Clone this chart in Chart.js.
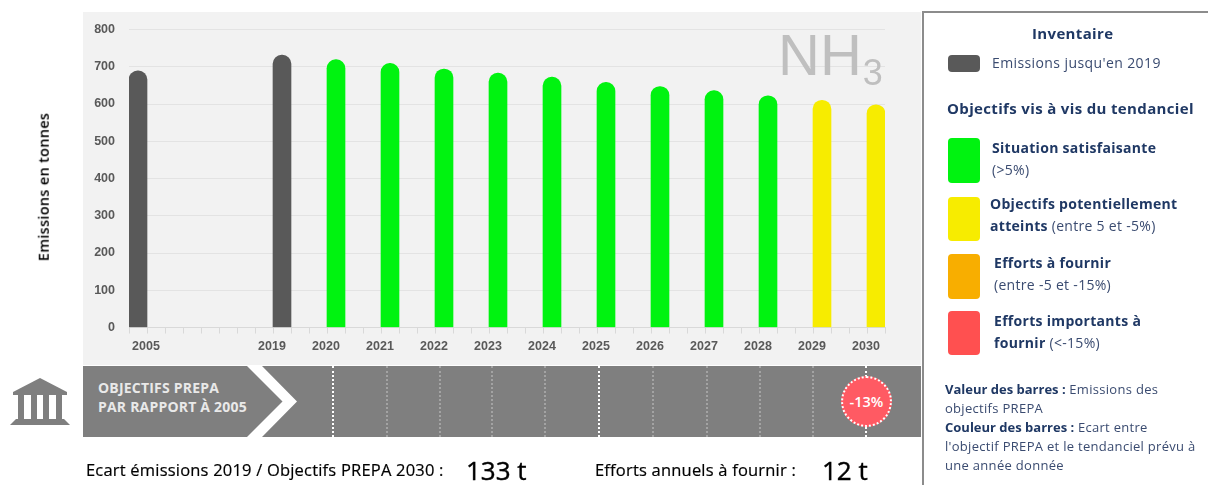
<!DOCTYPE html>
<html lang="fr"><head><meta charset="utf-8">
<script src="https://cdn.jsdelivr.net/npm/chart.js@4"></script>
<style>
html,body{margin:0;padding:0;background:#fff;width:1208px;height:485px;overflow:hidden}
body{position:relative;font-family:"Open Sans",sans-serif}
.a{position:absolute;white-space:nowrap;line-height:1}
#bg{left:83px;top:12px;width:838px;height:353px;background:#f2f2f2}
#c{position:absolute;left:0;top:0}
#nh{left:778px;top:21px;font:58px "Liberation Sans",sans-serif;color:#bfbfbf}
#nh sub{font-size:36px;vertical-align:-10px;line-height:0;margin-left:1px}
#yt{left:44px;top:187px;font-size:14.500px;font-weight:600;letter-spacing:.3px;color:#000;transform:translate(-50%,-50%) rotate(-90deg)}
#band{left:83px;top:366px;width:838px;height:71px;background:#7f7f7f}
.v{position:absolute;top:366px;height:71px;width:0;border-left:2px dotted #a3a3a3}
.v.m{border-left-color:#fff}
#bt{font-weight:700;font-size:14px;color:#e9e9e9;line-height:19px;left:98px;top:378px;white-space:pre;letter-spacing:.2px}
#badge{left:841px;top:376px;width:47px;height:47px;border:2px dotted #fff;border-radius:50%;background:#ff5a63;color:#fff;font-size:14.500px;font-weight:600;text-align:center;line-height:47px}
.low{font-size:16.500px;color:#000;font-weight:400;top:462px;letter-spacing:.2px;-webkit-text-stroke:.2px #000}
.big{font-size:26px;color:#000;font-weight:400;top:457px;-webkit-text-stroke:.4px #000}
#panel{position:absolute;left:922px;top:11px;width:300px;height:490px;border:2px solid #8c8c8c;box-sizing:border-box}
.sw{position:absolute;left:948px;width:32px;border-radius:4px}
.t{color:#3a4b70;font-size:14px;letter-spacing:.3px}
.t b{font-weight:700;color:#1f3864}
.h{color:#1f3864;font-size:15px;font-weight:700;letter-spacing:.35px}
.n{color:#3a4b70;font-size:13px;letter-spacing:.3px}
.n b{font-weight:700;color:#1f3864;letter-spacing:0}
</style></head><body>
<div class="a" id="bg"></div>
<canvas id="c" width="1208" height="485"></canvas>
<div class="a" id="nh">NH<sub>3</sub></div>
<div class="a" id="yt">Emissions en tonnes</div>
<div class="a" id="band"></div>
<svg style="position:absolute;left:83px;top:366px" width="230" height="71"><polygon points="164,0 179,0 214,35.500 179,71 164,71 199.500,35.500" fill="#fff"/></svg>
<div id="vl"></div>
<div class="a" id="bt">OBJECTIFS PREPA
PAR RAPPORT À 2005</div>
<div class="a" id="badge">-13%</div>
<svg style="position:absolute;left:10px;top:378px" width="61" height="48" viewBox="0 0 61 48" fill="#7f7f7f">
<polygon points="30,0 57,14 57,17 3,17 3,14"/>
<rect x="8" y="17" width="6" height="24"/><rect x="21" y="17" width="6" height="24"/><rect x="33" y="17" width="6" height="24"/><rect x="46" y="17" width="6" height="24"/>
<polygon points="6,41 54,41 60,47 0,47"/>
</svg>
<div class="a low" style="left:86px">Ecart émissions 2019 / Objectifs PREPA 2030 :</div>
<div class="a big" style="left:466px">133 t</div>
<div class="a low" style="left:595px">Efforts annuels à fournir :</div>
<div class="a big" style="left:822px">12 t</div>

<div id="panel"></div>
<div class="a h" style="left:1032px;top:26px">Inventaire</div>
<div class="sw" style="top:55px;height:17px;background:#595959"></div>
<div class="a t" style="left:992px;top:56px;letter-spacing:.4px">Emissions jusqu'en 2019</div>
<div class="a h" style="left:947px;top:101px">Objectifs vis à vis du tendanciel</div>
<div class="sw" style="top:138px;height:45px;background:#00f310"></div>
<div class="a t" style="left:992px;top:141px"><b>Situation satisfaisante</b></div>
<div class="a t" style="left:992px;top:163px">(&gt;5%)</div>
<div class="sw" style="top:197px;height:44px;background:#f7ec00"></div>
<div class="a t" style="left:990px;top:197px"><b>Objectifs potentiellement</b></div>
<div class="a t" style="left:990px;top:219px"><b>atteints</b> (entre 5 et -5%)</div>
<div class="sw" style="top:254px;height:45px;background:#f8ae00"></div>
<div class="a t" style="left:994px;top:256px"><b>Efforts à fournir</b></div>
<div class="a t" style="left:994px;top:278px">(entre -5 et -15%)</div>
<div class="sw" style="top:311px;height:44px;background:#ff5050"></div>
<div class="a t" style="left:994px;top:314px"><b>Efforts importants à</b></div>
<div class="a t" style="left:994px;top:336px"><b>fournir</b> (&lt;-15%)</div>
<div class="a n" style="left:945px;top:383px"><b>Valeur des barres :</b> Emissions des</div>
<div class="a n" style="left:945px;top:402px">objectifs PREPA</div>
<div class="a n" style="left:945px;top:421px"><b>Couleur des barres :</b> Ecart entre</div>
<div class="a n" style="left:945px;top:440px">l'objectif PREPA et le tendanciel prévu à</div>
<div class="a n" style="left:945px;top:459px">une année donnée</div>

<script>
const GREY='#595959',GREEN='#00f310',YELLOW='#f7ec00';
const categories=['2005','','','','','','','','2019','','','2020','','','2021','','','2022','','','2023','','','2024','','','2025','','','2026','','','2027','','','2028','','','2029','','','2030'];
const values=[689,null,null,null,null,null,null,null,731,null,null,719,null,null,709,null,null,694,null,null,683,null,null,672,null,null,658,null,null,647,null,null,636,null,null,622,null,null,610,null,null,598];
const barColors=[GREY,null,null,null,null,null,null,null,GREY,null,null,GREEN,null,null,GREEN,null,null,GREEN,null,null,GREEN,null,null,GREEN,null,null,GREEN,null,null,GREEN,null,null,GREEN,null,null,GREEN,null,null,YELLOW,null,null,YELLOW];
const yTicks=[0,100,200,300,400,500,600,700,800];

const vl=document.getElementById('vl');
[[333,1],[386.500,0],[439.500,0],[492,0],[545,0],[599,1],[653,0],[707,0],[760,0],[813,0],[866,1]].forEach(([x,m])=>{
  const d=document.createElement('div');d.className='v'+(m?' m':'');d.style.left=(x-1)+'px';vl.appendChild(d);
});
document.getElementById('band').after(vl);

const shiftFirstLabel={id:'shiftFirstLabel',beforeDraw(chart){
  const items=chart.scales.x.getLabelItems();
  const first=items.find(i=>i.label==='2005');
  if(first&&!first.shifted){first.options.translation[0]+=18;first.shifted=true;}
}};
new Chart(document.getElementById('c'),{
  type:'bar',
  data:{labels:categories,datasets:[{data:values,backgroundColor:barColors,barPercentage:1,categoryPercentage:1,
    borderRadius:{topLeft:9,topRight:9,bottomLeft:0,bottomRight:0},borderSkipped:'bottom'}]},
  plugins:[shiftFirstLabel],
  options:{responsive:false,animation:false,
    layout:{padding:{left:0,top:29.500,right:323,bottom:0}},
    plugins:{legend:{display:false},tooltip:{enabled:false}},
    scales:{
      x:{offset:true,
        grid:{offset:true,drawOnChartArea:false,drawTicks:true,tickLength:6,color:'#d9d9d9'},
        border:{color:'#d9d9d9'},
        ticks:{autoSkip:false,maxRotation:0,minRotation:0,padding:6,labelOffset:-10,color:'#595959',font:{family:'"Liberation Sans"',size:12.500,weight:'bold'}},
        afterFit(s){s.height=157.500;}
      },
      y:{min:0,max:800,
        afterBuildTicks(s){s.ticks=yTicks.map(v=>({value:v}));},
        grid:{drawTicks:false,color:'#e3e3e3'},border:{display:false},
        ticks:{padding:14,color:'#595959',font:{family:'"Liberation Sans"',size:12.500,weight:'bold'}},
        afterFit(s){s.width=129;}
      }
    }
  }
});
</script>
</body></html>
